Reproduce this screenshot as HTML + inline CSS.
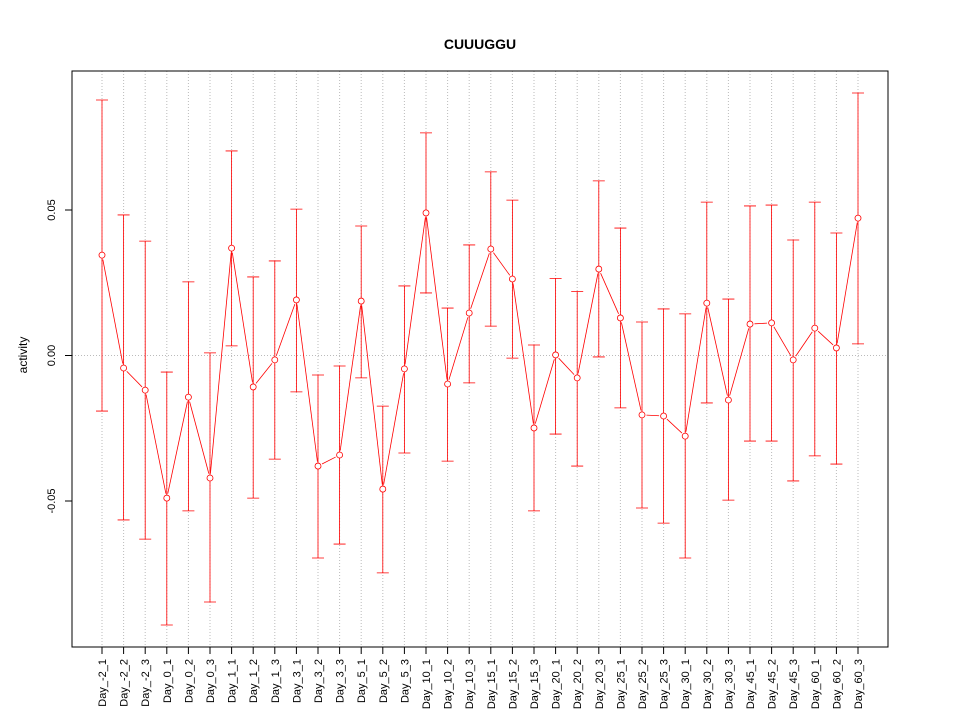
<!DOCTYPE html>
<html><head><meta charset="utf-8"><style>
html,body{margin:0;padding:0;background:#fff}
svg text{font-family:"Liberation Sans",sans-serif}
</style></head><body>
<svg id="chart" width="960" height="720" xmlns="http://www.w3.org/2000/svg">
<rect width="960" height="720" fill="#fff"/>
<text x="480" y="49" text-anchor="middle" font-size="14" font-weight="bold">CUUUGGU</text>
<text transform="translate(27,355) rotate(-90)" text-anchor="middle" font-size="12">activity</text>
<g id="grid"></g><g id="axes"></g><g id="marks"></g>
<rect x="72" y="71" width="816" height="576" fill="none" stroke="#000"/>
</svg>
<script>
const categories=["Day_-2_1","Day_-2_2","Day_-2_3","Day_0_1","Day_0_2","Day_0_3","Day_1_1","Day_1_2","Day_1_3","Day_3_1","Day_3_2","Day_3_3","Day_5_1","Day_5_2","Day_5_3","Day_10_1","Day_10_2","Day_10_3","Day_15_1","Day_15_2","Day_15_3","Day_20_1","Day_20_2","Day_20_3","Day_25_1","Day_25_2","Day_25_3","Day_30_1","Day_30_2","Day_30_3","Day_45_1","Day_45_2","Day_45_3","Day_60_1","Day_60_2","Day_60_3"];
const values=[0.0345,-0.0043,-0.0119,-0.0490,-0.0143,-0.0421,0.0369,-0.0108,-0.0015,0.0191,-0.0380,-0.0342,0.0187,-0.0459,-0.0046,0.0490,-0.0098,0.0146,0.0366,0.0263,-0.0249,0.0002,-0.0077,0.0297,0.0129,-0.0204,-0.0208,-0.0277,0.0180,-0.0153,0.0108,0.0112,-0.0015,0.0094,0.0026,0.0472];
const upper=[0.0878,0.0483,0.0393,-0.0057,0.0253,0.0009,0.0703,0.0270,0.0325,0.0503,-0.0067,-0.0036,0.0445,-0.0174,0.0239,0.0765,0.0163,0.0380,0.0631,0.0534,0.0036,0.0265,0.0220,0.0600,0.0438,0.0115,0.0160,0.0143,0.0527,0.0194,0.0514,0.0517,0.0397,0.0527,0.0421,0.0902];
const lower=[-0.0191,-0.0565,-0.0631,-0.0926,-0.0534,-0.0847,0.0033,-0.0490,-0.0356,-0.0125,-0.0696,-0.0648,-0.0077,-0.0747,-0.0335,0.0215,-0.0363,-0.0094,0.0101,-0.0009,-0.0534,-0.0270,-0.0380,-0.0005,-0.0180,-0.0524,-0.0576,-0.0696,-0.0163,-0.0497,-0.0294,-0.0294,-0.0431,-0.0345,-0.0373,0.0040];
const yTicks=[-0.05,0,0.05];
const yTickLabels=["-0.05","0.00","0.05"];
const NS="http://www.w3.org/2000/svg";
const x=i=>102+i*(756/(categories.length-1));
const y=v=>355.5-v*2910;
function mk(tag,attrs,parent){const e=document.createElementNS(NS,tag);for(const k in attrs)e.setAttribute(k,attrs[k]);parent.appendChild(e);return e;}
const grid=document.getElementById('grid'),axes=document.getElementById('axes'),marks=document.getElementById('marks');
categories.forEach((c,i)=>{
 const g=mk('line',{x1:x(i),x2:x(i),y1:71,y2:647,stroke:'#bbb','stroke-dasharray':'1,2'},grid);
 
 
 const t=mk('line',{x1:x(i),x2:x(i),y1:647,y2:654,stroke:'#000'},axes);
 
 
 const l=mk('text',{transform:`translate(${x(i)+4},${659}) rotate(-90)`,'text-anchor':'end','font-size':'11'},axes);
 l.textContent=c;
 
 
});
const hz=mk('line',{x1:72,x2:888,y1:y(0),y2:y(0),stroke:'#bbb','stroke-dasharray':'1,2'},grid);


yTicks.forEach((v,i)=>{
 const t=mk('line',{x1:65,x2:72,y1:y(v),y2:y(v),stroke:'#000'},axes);
 
 
 const l=mk('text',{transform:`translate(${55},${y(v)}) rotate(-90)`,'text-anchor':'middle','font-size':'11'},axes);
 l.textContent=yTickLabels[i];
 
 
});
const R=3, G=4.5;
for(let i=0;i<values.length-1;i++){
 const x1=x(i),y1=y(values[i]),x2=x(i+1),y2=y(values[i+1]);
 const d=Math.hypot(x2-x1,y2-y1);
 if(d<=2*G) continue;
 const ux=(x2-x1)/d,uy=(y2-y1)/d;
 const s=mk('line',{x1:x1+ux*G,y1:y1+uy*G,x2:x2-ux*G,y2:y2-uy*G,stroke:'#f00','stroke-width':0.8},marks);
 
 
}
values.forEach((v,i)=>{
 const eb=mk('path',{d:`M${x(i)},${y(upper[i])}V${y(lower[i])}M${x(i)-6},${y(upper[i])}H${x(i)+6}M${x(i)-6},${y(lower[i])}H${x(i)+6}`,stroke:'#f00','stroke-width':0.8,fill:'none'},marks);
 
 
 const p=mk('circle',{cx:x(i),cy:y(v),r:R,fill:'#fff',stroke:'#f00','stroke-width':0.8},marks);
 
 
});
</script>
</body></html>
